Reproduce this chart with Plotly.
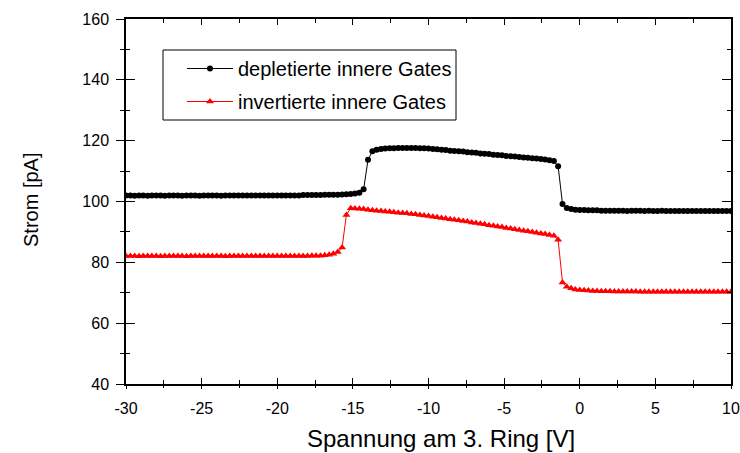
import plotly.graph_objects as go

# gate voltage sweep (V)
spannung = [
    -30.00, -29.71, -29.43, -29.14, -28.86, -28.57, -28.29,
    -28.00, -27.71, -27.43, -27.14, -26.86, -26.57, -26.29,
    -26.00, -25.71, -25.43, -25.14, -24.86, -24.57, -24.29,
    -24.00, -23.71, -23.43, -23.14, -22.86, -22.57, -22.29,
    -22.00, -21.71, -21.43, -21.14, -20.86, -20.57, -20.29,
    -20.00, -19.71, -19.43, -19.14, -18.86, -18.57, -18.29,
    -18.00, -17.71, -17.43, -17.14, -16.86, -16.57, -16.29,
    -16.00, -15.71, -15.43, -15.14, -14.86, -14.57, -14.29,
    -14.00, -13.71, -13.43, -13.14, -12.86, -12.57, -12.29,
    -12.00, -11.71, -11.43, -11.14, -10.86, -10.57, -10.29,
    -10.00, -9.71, -9.43, -9.14, -8.86, -8.57, -8.29,
    -8.00, -7.71, -7.43, -7.14, -6.86, -6.57, -6.29,
    -6.00, -5.71, -5.43, -5.14, -4.86, -4.57, -4.29,
    -4.00, -3.71, -3.43, -3.14, -2.86, -2.57, -2.29,
    -2.00, -1.71, -1.43, -1.14, -0.86, -0.57, -0.29,
    0.00, 0.29, 0.57, 0.86, 1.14, 1.43, 1.71,
    2.00, 2.29, 2.57, 2.86, 3.14, 3.43, 3.71,
    4.00, 4.29, 4.57, 4.86, 5.14, 5.43, 5.71,
    6.00, 6.29, 6.57, 6.86, 7.14, 7.43, 7.71,
    8.00, 8.29, 8.57, 8.86, 9.14, 9.43, 9.71,
    10.00,
]

# current with depleted inner gates (pA)
strom_depletiert = [
    102.0, 102.0, 101.9, 102.0, 102.0, 101.9, 102.0,
    102.0, 102.0, 101.9, 102.0, 102.0, 102.0, 101.9,
    102.0, 102.0, 102.0, 101.9, 102.0, 102.0, 102.0,
    102.0, 101.9, 102.0, 102.0, 102.0, 102.0, 102.0,
    102.0, 102.0, 102.0, 102.0, 102.0, 102.0, 102.0,
    102.0, 102.0, 102.0, 102.0, 102.0, 102.0, 102.1,
    102.1, 102.1, 102.1, 102.1, 102.2, 102.2, 102.2,
    102.2, 102.3, 102.4, 102.5, 102.6, 102.9, 104.0,
    113.7, 116.5, 117.0, 117.3, 117.4, 117.5, 117.5,
    117.6, 117.6, 117.6, 117.6, 117.6, 117.5, 117.5,
    117.4, 117.3, 117.2, 117.0, 116.9, 116.7, 116.6,
    116.5, 116.4, 116.2, 116.1, 116.0, 115.8, 115.7,
    115.6, 115.4, 115.3, 115.2, 115.0, 114.9, 114.8,
    114.6, 114.5, 114.4, 114.2, 114.1, 114.0, 113.8,
    113.6, 113.3, 111.6, 99.2, 97.9, 97.5, 97.3,
    97.2, 97.2, 97.1, 97.1, 97.1, 97.0, 97.0,
    97.0, 97.0, 97.0, 97.0, 96.9, 97.0, 97.0,
    97.0, 96.9, 97.0, 96.9, 96.9, 97.0, 96.9,
    96.9, 96.9, 96.9, 96.9, 96.9, 96.9, 96.9,
    96.9, 96.9, 96.9, 96.9, 96.9, 96.9, 96.9,
    96.9,
]

# current with inverted inner gates (pA)
strom_invertiert = [
    82.1, 82.1, 82.1, 82.0, 82.1, 82.1, 82.1,
    82.1, 82.0, 82.1, 82.1, 82.1, 82.1, 82.1,
    82.0, 82.1, 82.1, 82.1, 82.1, 82.1, 82.1,
    82.1, 82.1, 82.0, 82.1, 82.1, 82.1, 82.1,
    82.1, 82.1, 82.1, 82.1, 82.1, 82.1, 82.1,
    82.1, 82.1, 82.1, 82.1, 82.1, 82.1, 82.1,
    82.1, 82.2, 82.2, 82.2, 82.3, 82.5, 82.8,
    83.4, 84.9, 95.6, 97.8, 97.7, 97.6, 97.5,
    97.3, 97.1, 97.0, 96.9, 96.7, 96.6, 96.5,
    96.3, 96.2, 96.1, 95.9, 95.8, 95.6, 95.4,
    95.2, 95.0, 94.8, 94.6, 94.4, 94.2, 94.0,
    93.8, 93.6, 93.4, 93.1, 92.9, 92.7, 92.5,
    92.2, 92.0, 91.8, 91.6, 91.3, 91.1, 90.9,
    90.6, 90.4, 90.2, 90.0, 89.7, 89.5, 89.3,
    89.0, 88.7, 87.4, 73.4, 72.0, 71.5, 71.1,
    70.9, 70.8, 70.7, 70.6, 70.6, 70.5, 70.5,
    70.5, 70.4, 70.4, 70.4, 70.4, 70.4, 70.4,
    70.3, 70.3, 70.3, 70.3, 70.3, 70.3, 70.3,
    70.3, 70.3, 70.3, 70.3, 70.3, 70.3, 70.3,
    70.3, 70.3, 70.3, 70.3, 70.3, 70.3, 70.3,
    70.3,
]

x_ticks = [-30, -25, -20, -15, -10, -5, 0, 5, 10]
x_ticktext = ["-30", "-25", "-20", "-15", "-10", "-5", "0", "5", "10"]
y_ticks = [40, 60, 80, 100, 120, 140, 160]

FONT = "Liberation Sans, Arial, sans-serif"

# plot area in pixels: x 126..731, y 19..384
L, R, T, B = 126, 731, 19, 384
def px(x):
    return (x - L) / (R - L)
def py(y):
    return (B - y) / (B - T)

fig = go.Figure()
fig.add_trace(go.Scatter(
    x=spannung, y=strom_depletiert, mode="lines+markers",
    name="depletierte innere Gates", legendgroup="a",
    line=dict(color="black", width=1),
    marker=dict(symbol="circle", size=6, color="black"),
))
fig.add_trace(go.Scatter(
    x=spannung, y=strom_invertiert, mode="lines+markers",
    name="invertierte innere Gates", legendgroup="b",
    line=dict(color="red", width=1),
    marker=dict(symbol="triangle-up", size=7, color="red"),
))
# empty trace so the overlaid inside-tick axes get drawn
fig.add_trace(go.Scatter(x=[], y=[], xaxis="x2", yaxis="y2", showlegend=False))

axis_common = dict(showgrid=False, zeroline=False, showline=True, linecolor="black",
                   linewidth=1.5, tickcolor="black", tickwidth=1.2, automargin=False)

fig.update_layout(
    width=740, height=453,
    margin=dict(l=L, r=740 - R, t=T, b=453 - B),
    paper_bgcolor="white", plot_bgcolor="white",
    font=dict(family=FONT, color="black", size=16),
    xaxis=dict(range=[-30, 10], tickvals=x_ticks, ticktext=x_ticktext,
               ticks="outside", ticklen=3, mirror=True, ticklabelstandoff=6,
               minor=dict(dtick=2.5, ticks="outside", ticklen=2, tickcolor="black"),
               tickfont=dict(size=16), **axis_common),
    yaxis=dict(range=[40, 160], tickvals=y_ticks,
               ticks="outside", ticklen=8, mirror=True, ticklabelstandoff=4,
               minor=dict(dtick=10, ticks="outside", ticklen=4, tickcolor="black"),
               tickfont=dict(size=16), **axis_common),
    xaxis2=dict(range=[-30, 10], dtick=5, ticks="inside", ticklen=6, overlaying="x",
                anchor="y2", mirror="ticks", showticklabels=False,
                minor=dict(dtick=2.5, ticks="inside", ticklen=4, tickcolor="black"),
                **axis_common),
    yaxis2=dict(range=[40, 160], dtick=20, ticks="inside", ticklen=9, overlaying="y",
                anchor="x2", mirror="ticks", showticklabels=False,
                minor=dict(dtick=10, ticks="inside", ticklen=4, tickcolor="black"),
                **axis_common),
    legend=dict(x=px(182), y=py(49), xanchor="left", yanchor="top",
                bgcolor="rgba(0,0,0,0)", borderwidth=0, itemwidth=46,
                font=dict(size=20), tracegroupgap=4),
    shapes=[dict(type="rect", xref="paper", yref="paper",
                 x0=px(163), x1=px(456), y0=py(120), y1=py(50),
                 line=dict(color="black", width=1), fillcolor="white", layer="below")],
    annotations=[
        dict(text="Spannung am 3. Ring [V]", xref="paper", yref="paper",
             x=px(441), y=py(438), showarrow=False, font=dict(size=24),
             xanchor="center", yanchor="middle"),
        dict(text="Strom [pA]", xref="paper", yref="paper", textangle=-90,
             x=px(31), y=py(200), showarrow=False, font=dict(size=20),
             xanchor="center", yanchor="middle"),
    ],
    showlegend=True,
)

fig.write_html("out.html", config={"displayModeBar": False},
               post_script="document.body.style.margin='0px';")
